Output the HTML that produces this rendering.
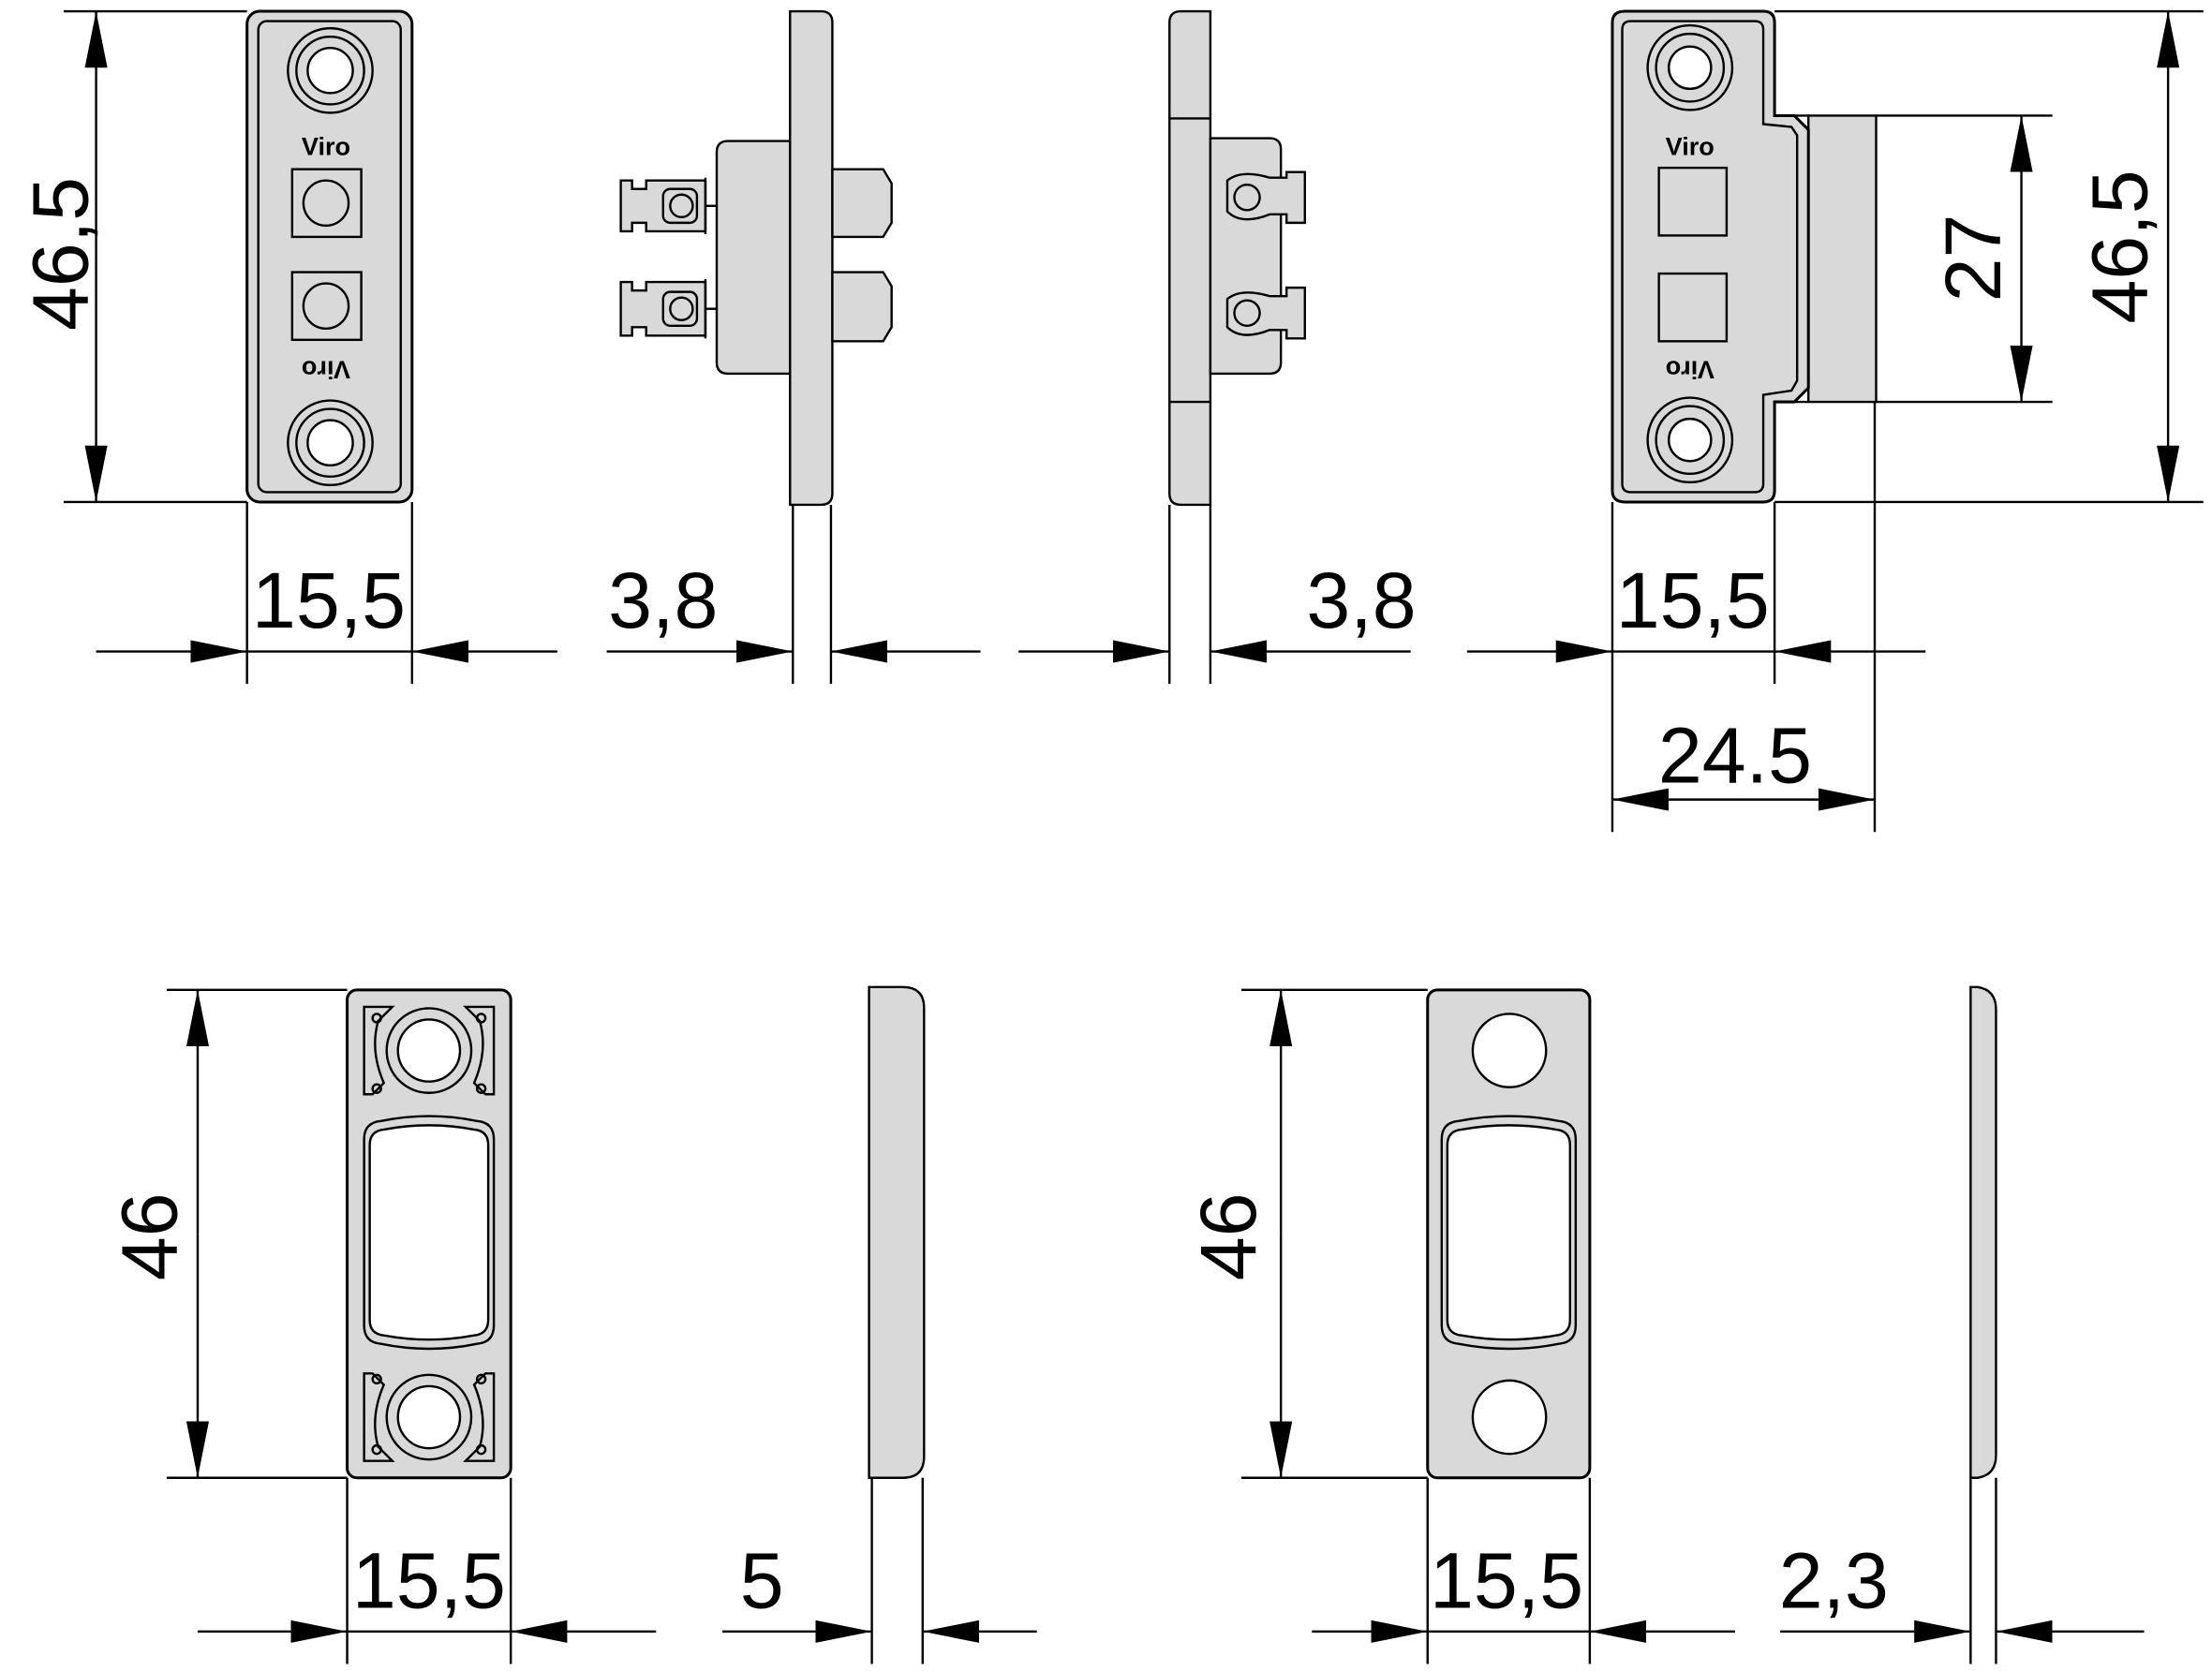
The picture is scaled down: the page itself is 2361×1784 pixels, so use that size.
<!DOCTYPE html>
<html><head><meta charset="utf-8"><style>
html,body{margin:0;padding:0;background:#fff;}
svg{display:block;}
text{font-family:"Liberation Sans",sans-serif;font-size:56px;fill:#000;}
</style></head><body>
<svg width="2361" height="1784" viewBox="0 0 1568 1185" xmlns="http://www.w3.org/2000/svg">
<defs>
<marker id="a" viewBox="0 0 20 8" refX="20" refY="4" markerWidth="40" markerHeight="16" markerUnits="userSpaceOnUse" orient="auto"><path d="M0,0 L20,4 L0,8 Z" fill="#000"/></marker>
</defs>
<g stroke="#000" stroke-width="1.6" fill="none">
<!-- ===== View 1 ===== -->
<rect x="175" y="8" width="117" height="348" rx="9" fill="#d9d9d9" stroke-width="2"/>
<rect x="183" y="15" width="101" height="334" rx="6"/>
<circle cx="234" cy="50" r="30"/><circle cx="234" cy="50" r="24"/><circle cx="234" cy="50" r="16" fill="#fff"/>
<circle cx="234" cy="314" r="30"/><circle cx="234" cy="314" r="24"/><circle cx="234" cy="314" r="16" fill="#fff"/>
<rect x="207" y="120" width="49" height="48"/><circle cx="231" cy="144" r="16"/>
<rect x="207" y="193" width="49" height="48"/><circle cx="231" cy="217" r="16"/>
<line x1="45" y1="8" x2="175" y2="8"/><line x1="45" y1="356" x2="175" y2="356"/>
<line x1="68" y1="180" x2="68" y2="8" marker-end="url(#a)"/><line x1="68" y1="180" x2="68" y2="356" marker-end="url(#a)"/>
<line x1="175" y1="356" x2="175" y2="485"/><line x1="292" y1="356" x2="292" y2="485"/>
<line x1="68" y1="462" x2="175" y2="462" marker-end="url(#a)"/><line x1="395" y1="462" x2="292" y2="462" marker-end="url(#a)"/>
<line x1="175" y1="462" x2="292" y2="462"/>

<!-- ===== View 2 ===== -->
<path d="M508,108 Q508,100 516,100 L560,100 L560,265 L516,265 Q508,265 508,257 Z" fill="#d9d9d9"/>
<path d="M560,8 L582,8 Q590,8 590,16 L590,350 Q590,358 582,358 L560,358 Z" fill="#d9d9d9"/>
<path d="M590,120 L626,120 L632,130 L632,158 L626,168 L590,168 Z" fill="#d9d9d9"/>
<path d="M590,193 L626,193 L632,203 L632,232 L626,242 L590,242 Z" fill="#d9d9d9"/>
<path d="M440,128 L448,128 L448,134 L458,134 L458,128 L500,128 L500,164 L458,164 L458,158 L448,158 L448,164 L440,164 Z" fill="#d9d9d9"/>
<rect x="470" y="134" width="24" height="24" rx="5"/><circle cx="483" cy="146" r="8"/>
<line x1="500" y1="126" x2="500" y2="166"/>
<path d="M440,200 L448,200 L448,206 L458,206 L458,200 L500,200 L500,238 L458,238 L458,232 L448,232 L448,238 L440,238 Z" fill="#d9d9d9"/>
<rect x="470" y="207" width="24" height="24" rx="5"/><circle cx="483" cy="219" r="8"/>
<line x1="500" y1="198" x2="500" y2="240"/>
<line x1="500" y1="146" x2="508" y2="146"/><line x1="500" y1="219" x2="508" y2="219"/>
<line x1="562" y1="358" x2="562" y2="485"/><line x1="589" y1="358" x2="589" y2="485"/>
<line x1="430" y1="462" x2="562" y2="462" marker-end="url(#a)"/><line x1="695" y1="462" x2="589" y2="462" marker-end="url(#a)"/>

<!-- ===== View 3 ===== -->
<path d="M858,8 L837,8 Q829,8 829,16 L829,350 Q829,358 837,358 L858,358 Z" fill="#d9d9d9"/>
<path d="M829,84 L858,84 M829,285 L858,285"/>
<path d="M858,98 L900,98 Q908,98 908,106 L908,257 Q908,265 900,265 L858,265 Z" fill="#d9d9d9"/>
<path d="M870,128 Q880,120 900,126 L912,126 L912,122 L925,122 L925,158 L912,158 L912,152 L900,152 Q880,160 870,150 Z" fill="#d9d9d9"/>
<circle cx="884" cy="140" r="9"/>
<path d="M870,212 Q880,204 900,210 L912,210 L912,204 L925,204 L925,240 L912,240 L912,234 L900,234 Q880,242 870,232 Z" fill="#d9d9d9"/>
<circle cx="884" cy="222" r="9"/>
<line x1="829" y1="358" x2="829" y2="485"/><line x1="858" y1="358" x2="858" y2="485"/>
<line x1="722" y1="462" x2="829" y2="462" marker-end="url(#a)"/><line x1="1000" y1="462" x2="858" y2="462" marker-end="url(#a)"/>

<!-- ===== View 4 ===== -->
<path d="M1282,82 L1330,82 L1330,285 L1282,285 Z" fill="#d9d9d9"/>
<line x1="1258" y1="82" x2="1282" y2="82"/><line x1="1258" y1="285" x2="1282" y2="285"/>
<path d="M1152,8 L1250,8 Q1258,8 1258,16 L1258,82 L1272,82 L1282,92 L1282,275 L1272,285 L1258,285 L1258,348 Q1258,356 1250,356 L1152,356 Q1143,356 1143,348 L1143,16 Q1143,8 1152,8 Z" fill="#d9d9d9" stroke-width="2"/>
<path d="M1156,15 L1244,15 Q1250,15 1250,21 L1250,88 L1270,90 L1274,96 L1274,270 L1270,277 L1250,280 L1250,343 Q1250,349 1244,349 L1156,349 Q1150,349 1150,343 L1150,21 Q1150,15 1156,15 Z"/>
<circle cx="1198" cy="48" r="30"/><circle cx="1198" cy="48" r="24"/><circle cx="1198" cy="48" r="15" fill="#fff"/>
<circle cx="1198" cy="312" r="30"/><circle cx="1198" cy="312" r="24"/><circle cx="1198" cy="312" r="15" fill="#fff"/>
<rect x="1176" y="119" width="48" height="48"/>
<rect x="1176" y="194" width="48" height="48"/>
<line x1="1330" y1="82" x2="1455" y2="82"/><line x1="1330" y1="285" x2="1455" y2="285"/>
<line x1="1433" y1="183" x2="1433" y2="82" marker-end="url(#a)"/><line x1="1433" y1="183" x2="1433" y2="285" marker-end="url(#a)"/>
<line x1="1258" y1="8" x2="1562" y2="8"/><line x1="1258" y1="356" x2="1562" y2="356"/>
<line x1="1537" y1="180" x2="1537" y2="8" marker-end="url(#a)"/><line x1="1537" y1="180" x2="1537" y2="356" marker-end="url(#a)"/>
<line x1="1143" y1="356" x2="1143" y2="590"/><line x1="1258" y1="356" x2="1258" y2="485"/>
<line x1="1329" y1="285" x2="1329" y2="590"/>
<line x1="1040" y1="462" x2="1143" y2="462" marker-end="url(#a)"/><line x1="1365" y1="462" x2="1258" y2="462" marker-end="url(#a)"/>
<line x1="1143" y1="462" x2="1258" y2="462"/>
<line x1="1236" y1="567" x2="1143" y2="567" marker-end="url(#a)"/><line x1="1236" y1="567" x2="1329" y2="567" marker-end="url(#a)"/>

<!-- ===== Bottom left plate ===== -->
<rect x="246" y="702" width="116" height="346" rx="7" fill="#d9d9d9" stroke-width="2"/>
<path d="M258,714 L278,714 L268,724 Q262,745 272,768 L264,776 L258,776 Z M350,714 L330,714 L340,724 Q346,745 336,768 L344,776 L350,776 Z"/>
<path d="M258,1036 L278,1036 L268,1026 Q262,1005 272,982 L264,974 L258,974 Z M350,1036 L330,1036 L340,1026 Q346,1005 336,982 L344,974 L350,974 Z"/>
<circle cx="304" cy="745" r="30"/><circle cx="304" cy="745" r="22" fill="#fff"/>
<circle cx="304" cy="1005" r="30"/><circle cx="304" cy="1005" r="22" fill="#fff"/>
<path d="M258,808 Q258,796 270,795 Q304,788 338,795 Q350,796 350,808 L350,940 Q350,952 338,953 Q304,960 270,953 Q258,952 258,940 Z"/>
<path d="M262,812 Q262,802 272,801 Q304,795 336,801 Q346,802 346,812 L346,936 Q346,946 336,947 Q304,953 272,947 Q262,946 262,936 Z" fill="#fff"/>
<circle cx="267" cy="722" r="3"/><circle cx="341" cy="722" r="3"/><circle cx="267" cy="772" r="3"/><circle cx="341" cy="772" r="3"/>
<circle cx="267" cy="978" r="3"/><circle cx="341" cy="978" r="3"/><circle cx="267" cy="1028" r="3"/><circle cx="341" cy="1028" r="3"/>
<line x1="118" y1="702" x2="246" y2="702"/><line x1="118" y1="1048" x2="246" y2="1048"/>
<line x1="140" y1="875" x2="140" y2="702" marker-end="url(#a)"/><line x1="140" y1="875" x2="140" y2="1048" marker-end="url(#a)"/>
<line x1="246" y1="1048" x2="246" y2="1180"/><line x1="362" y1="1048" x2="362" y2="1180"/>
<line x1="140" y1="1157" x2="246" y2="1157" marker-end="url(#a)"/><line x1="465" y1="1157" x2="362" y2="1157" marker-end="url(#a)"/>
<line x1="246" y1="1157" x2="362" y2="1157"/>
<path d="M616,700 L640,700 Q655,700 655,715 L655,1033 Q655,1048 640,1048 L616,1048 Z" fill="#d9d9d9"/>
<line x1="618" y1="1048" x2="618" y2="1180"/><line x1="654" y1="1048" x2="654" y2="1180"/>
<line x1="512" y1="1157" x2="618" y2="1157" marker-end="url(#a)"/><line x1="735" y1="1157" x2="654" y2="1157" marker-end="url(#a)"/>

<!-- ===== Bottom right plate ===== -->
<rect x="1012" y="702" width="115" height="346" rx="7" fill="#d9d9d9" stroke-width="2"/>
<circle cx="1070" cy="745" r="26" fill="#fff"/>
<circle cx="1070" cy="1005" r="26" fill="#fff"/>
<path d="M1022,808 Q1022,796 1034,795 Q1070,788 1105,795 Q1117,796 1117,808 L1117,940 Q1117,952 1105,953 Q1070,960 1034,953 Q1022,952 1022,940 Z"/>
<path d="M1026,812 Q1026,802 1036,801 Q1070,795 1103,801 Q1113,802 1113,812 L1113,936 Q1113,946 1103,947 Q1070,953 1036,947 Q1026,946 1026,936 Z" fill="#fff"/>
<line x1="880" y1="702" x2="1012" y2="702"/><line x1="880" y1="1048" x2="1012" y2="1048"/>
<line x1="908" y1="875" x2="908" y2="702" marker-end="url(#a)"/><line x1="908" y1="875" x2="908" y2="1048" marker-end="url(#a)"/>
<line x1="1012" y1="1048" x2="1012" y2="1180"/><line x1="1127" y1="1048" x2="1127" y2="1180"/>
<line x1="930" y1="1157" x2="1012" y2="1157" marker-end="url(#a)"/><line x1="1230" y1="1157" x2="1127" y2="1157" marker-end="url(#a)"/>
<line x1="1012" y1="1157" x2="1127" y2="1157"/>
<path d="M1397,700 L1402,700 Q1415,702 1415,716 L1415,1032 Q1415,1046 1402,1048 L1397,1048 Z" fill="#d9d9d9"/>
<line x1="1397" y1="1048" x2="1397" y2="1180"/><line x1="1415" y1="1048" x2="1415" y2="1180"/>
<line x1="1262" y1="1157" x2="1397" y2="1157" marker-end="url(#a)"/><line x1="1520" y1="1157" x2="1415" y2="1157" marker-end="url(#a)"/>
</g>

<text x="231" y="110" text-anchor="middle" style="font-size:18px;font-weight:bold">Viro</text>
<text transform="translate(231,256) rotate(180)" text-anchor="middle" style="font-size:18px;font-weight:bold">Viro</text>
<text x="1198" y="110" text-anchor="middle" style="font-size:18px;font-weight:bold">Viro</text>
<text transform="translate(1198,256) rotate(180)" text-anchor="middle" style="font-size:18px;font-weight:bold">Viro</text>

<text transform="translate(62,180) rotate(-90)" text-anchor="middle">46,5</text>
<text x="233" y="445" text-anchor="middle">15,5</text>
<text x="470" y="445" text-anchor="middle">3,8</text>
<text x="965" y="445" text-anchor="middle">3,8</text>
<text x="1200" y="445" text-anchor="middle">15,5</text>
<text x="1230" y="555" text-anchor="middle">24.5</text>
<text transform="translate(1418,183) rotate(-90)" text-anchor="middle">27</text>
<text transform="translate(1522,175) rotate(-90)" text-anchor="middle">46,5</text>
<text transform="translate(125,877) rotate(-90)" text-anchor="middle">46</text>
<text x="304" y="1140" text-anchor="middle">15,5</text>
<text x="540" y="1140" text-anchor="middle">5</text>
<text transform="translate(890,877) rotate(-90)" text-anchor="middle">46</text>
<text x="1068" y="1140" text-anchor="middle">15,5</text>
<text x="1300" y="1140" text-anchor="middle">2,3</text>
</svg>
</body></html>
